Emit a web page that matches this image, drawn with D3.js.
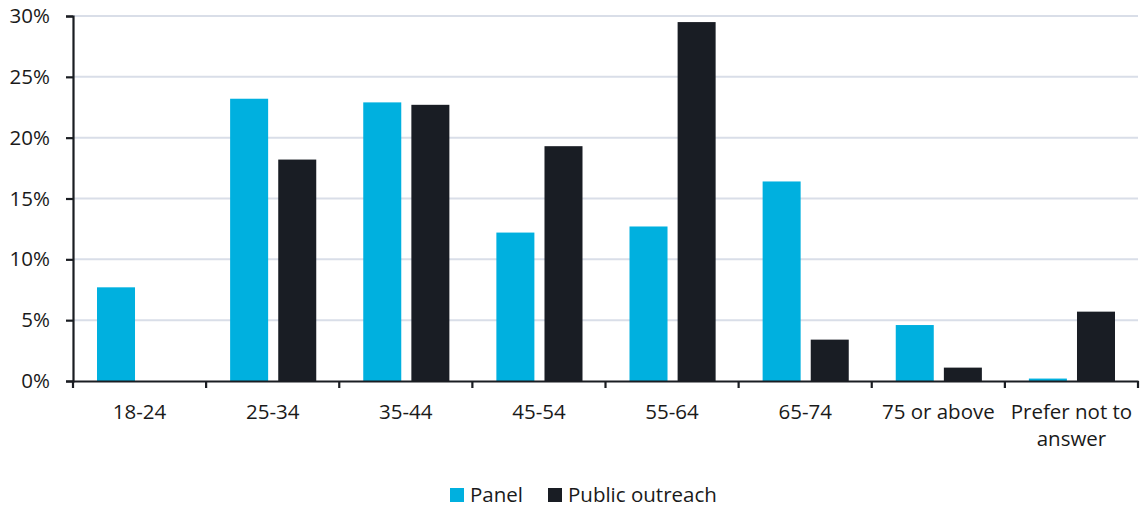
<!DOCTYPE html>
<html>
<head>
<meta charset="utf-8">
<script src="https://cdn.jsdelivr.net/npm/d3@7/dist/d3.min.js"></script>
<style>
  body { margin: 0; background: #fff; }
  svg text { font-family: "Open Sans", Lato, sans-serif; fill: #1a1a1a; }
</style>
</head>
<body>
<svg id="chart" width="1144" height="508"></svg>
<script>
const categories = ["18-24", "25-34", "35-44", "45-54", "55-64", "65-74", "75 or above", "Prefer not to answer"];
const seriesNames = ["Panel", "Public outreach"];
const panelValues = [7.7, 23.2, 22.9, 12.2, 12.7, 16.4, 4.6, 0.2];
const outreachValues = [0, 18.2, 22.7, 19.3, 29.5, 3.4, 1.1, 5.7];
const yTicks = [0, 5, 10, 15, 20, 25, 30];

const colors = {"Panel": "#00b0df", "Public outreach": "#191d24"};
const fontSize = "20.5px";

const margin = {top: 16, right: 6, bottom: 127, left: 73};
const width = 1144 - margin.left - margin.right;
const height = 508 - margin.top - margin.bottom;

const svg = d3.select("#chart");
const g = svg.append("g").attr("transform", `translate(${margin.left},${margin.top})`);

const x = d3.scaleBand().domain(categories).range([0, width]).paddingInner(0).paddingOuter(0);
const xInner = d3.scaleBand().domain(seriesNames).range([24, x.bandwidth() - 23]).paddingInner(0.21);
const y = d3.scaleLinear().domain([0, 30]).range([height, 0]);

// gridlines
g.selectAll("line.grid")
  .data(yTicks.slice(1))
  .enter()
  .append("line")
  .attr("class", "grid")
  .attr("x1", 0).attr("x2", width)
  .attr("y1", d => y(d)).attr("y2", d => y(d))
  .style("stroke", "#d9dee8").style("stroke-width", 2);

const rows = categories.map((c, i) => ({cat: c, vals: [
  {name: "Panel", v: panelValues[i]},
  {name: "Public outreach", v: outreachValues[i]}
]}));

const groups = g.selectAll("g.cat")
  .data(rows)
  .enter()
  .append("g")
  .attr("transform", d => `translate(${x(d.cat)},0)`);

groups.selectAll("rect")
  .data(d => d.vals.filter(e => e.v > 0))
  .enter()
  .append("rect")
  .attr("x", d => xInner(d.name))
  .attr("width", xInner.bandwidth())
  .attr("y", d => y(d.v))
  .attr("height", d => height - y(d.v))
  .style("fill", d => colors[d.name]);

// y axis
const yAxis = g.append("g")
  .call(d3.axisLeft(y).tickValues(yTicks).tickFormat(d => d + "%").tickSize(7).tickPadding(16));
yAxis.selectAll("text").style("font-size", fontSize);

// x axis
const xAxis = g.append("g")
  .attr("transform", `translate(0,${height})`)
  .call(d3.axisBottom(x).tickSize(0).tickFormat(""));

// category boundary ticks
const bounds = d3.range(categories.length + 1).map(i => i * x.step());
xAxis.selectAll("line.bound")
  .data(bounds)
  .enter()
  .append("line")
  .attr("class", "bound")
  .attr("x1", d => d).attr("x2", d => d)
  .attr("y1", 0).attr("y2", 7);

g.selectAll(".domain, .tick line, line.bound")
  .style("stroke", "#1a1d22").style("stroke-width", 2.2);

// category labels, wrapped like the original
const labelLines = {"Prefer not to answer": ["Prefer not to", "answer"]};
const labels = g.selectAll("text.cat")
  .data(categories)
  .enter()
  .append("text")
  .attr("class", "cat")
  .attr("text-anchor", "middle")
  .attr("transform", d => `translate(${x(d) + x.bandwidth() / 2},${height + 38})`)
  .style("font-size", fontSize);
labels.selectAll("tspan")
  .data(d => labelLines[d] || [d])
  .enter()
  .append("tspan")
  .attr("x", 0)
  .attr("dy", (d, i) => i === 0 ? 0 : 27)
  .text(d => d);

// legend
const legend = svg.append("g").attr("transform", "translate(450,488)");
const legendX = [0, 98];
seriesNames.forEach((s, i) => {
  const item = legend.append("g").attr("transform", `translate(${legendX[i]},0)`);
  item.append("rect").attr("width", 14).attr("height", 14).style("fill", colors[s]);
  item.append("text").attr("x", 20).attr("y", 14).style("font-size", fontSize).text(s);
});
</script>
</body>
</html>
